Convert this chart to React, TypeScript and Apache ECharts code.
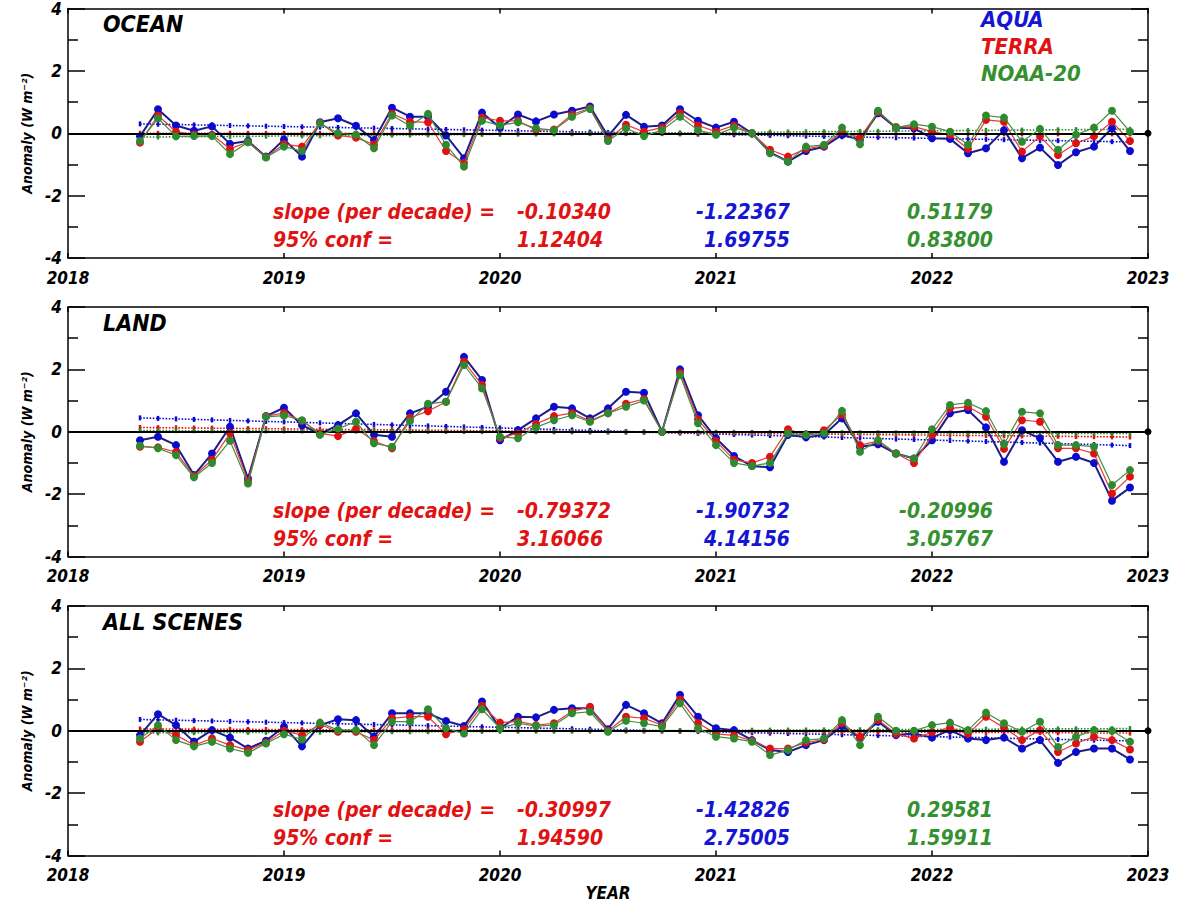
import React, { useEffect, useRef } from "react";
import * as echarts from "echarts";

// ---------- time axis ----------
const START_YEAR = 2018;
const START_MONTH = 5; // May 2018
const N_MONTHS = 56; // May 2018 .. Dec 2022
const MONTHS: number[] = Array.from({ length: N_MONTHS }, (_, k) => START_YEAR + (START_MONTH - 1 + k) / 12);
const X_MIN = 2018;
const X_MAX = 2023;
const Y_MIN = -4;
const Y_MAX = 4;

const PANEL_TITLES = ["OCEAN", "LAND", "ALL SCENES"];
const SERIES_NAMES = ["AQUA", "TERRA", "NOAA-20"];

// ---------- OCEAN ----------
const OCEAN_AQUA = [-0.1, 0.77, 0.25, 0.08, 0.22, -0.34, -0.25, -0.75, -0.2, -0.75, 0.35, 0.48, 0.24, -0.22, 0.82, 0.53, 0.53, -0.07, -0.8, 0.66, 0.18, 0.6, 0.38, 0.6, 0.72, 0.86, -0.1, 0.59, 0.21, 0.25, 0.77, 0.4, 0.18, 0.37, 0.0, -0.61, -0.91, -0.57, -0.43, -0.05, -0.21, 0.64, 0.18, 0.16, -0.16, -0.18, -0.64, -0.48, 0.1, -0.8, -0.46, -1.02, -0.61, -0.43, 0.16, -0.57];
const OCEAN_TERRA = [-0.3, 0.57, 0.05, -0.04, -0.05, -0.5, -0.28, -0.76, -0.35, -0.43, 0.33, -0.07, -0.14, -0.36, 0.63, 0.37, 0.35, -0.57, -0.95, 0.5, 0.4, 0.4, 0.1, 0.12, 0.6, 0.8, -0.2, 0.27, 0.05, 0.18, 0.65, 0.25, 0.05, 0.25, 0.0, -0.53, -0.75, -0.5, -0.4, 0.05, -0.14, 0.68, 0.2, 0.21, 0.05, -0.05, -0.5, 0.43, 0.37, -0.59, -0.1, -0.7, -0.32, -0.1, 0.37, -0.25];
const OCEAN_NOAA = [-0.25, 0.48, -0.1, -0.09, -0.09, -0.67, -0.29, -0.78, -0.43, -0.57, 0.32, 0.0, -0.05, -0.48, 0.57, 0.24, 0.62, -0.37, -1.07, 0.4, 0.25, 0.35, 0.16, 0.1, 0.53, 0.78, -0.25, 0.16, -0.09, 0.1, 0.53, 0.1, -0.05, 0.18, 0.0, -0.64, -0.91, -0.43, -0.37, 0.18, -0.35, 0.72, 0.18, 0.29, 0.21, 0.05, -0.37, 0.57, 0.5, -0.27, 0.14, -0.53, -0.05, 0.18, 0.72, 0.05];

// ---------- LAND ----------
const LAND_AQUA = [-0.27, -0.16, -0.43, -1.39, -0.7, 0.16, -1.5, 0.5, 0.77, 0.21, -0.07, 0.21, 0.59, -0.1, -0.16, 0.59, 0.8, 1.28, 2.4, 1.66, -0.27, 0.05, 0.43, 0.8, 0.75, 0.43, 0.75, 1.28, 1.25, 0.0, 2.0, 0.53, -0.21, -0.78, -1.1, -1.14, -0.1, -0.18, -0.1, 0.43, -0.48, -0.4, -0.7, -0.86, -0.27, 0.59, 0.7, 0.14, -0.96, 0.05, -0.21, -0.96, -0.8, -1.0, -2.21, -1.79];
const LAND_TERRA = [-0.48, -0.5, -0.65, -1.42, -0.9, -0.05, -1.58, 0.5, 0.6, 0.35, -0.05, -0.14, 0.1, -0.3, -0.53, 0.45, 0.66, 0.96, 2.25, 1.5, -0.2, -0.05, 0.25, 0.5, 0.6, 0.35, 0.6, 0.9, 1.05, 0.0, 1.9, 0.4, -0.3, -0.9, -1.0, -0.8, 0.08, -0.1, 0.05, 0.55, -0.43, -0.3, -0.7, -1.0, -0.1, 0.75, 0.8, 0.48, -0.55, 0.37, 0.32, -0.53, -0.53, -0.7, -1.98, -1.44];
const LAND_NOAA = [-0.45, -0.53, -0.75, -1.46, -1.0, -0.29, -1.66, 0.48, 0.52, 0.37, -0.1, 0.1, 0.32, -0.37, -0.48, 0.34, 0.9, 0.96, 2.14, 1.39, -0.16, -0.21, 0.14, 0.37, 0.53, 0.32, 0.59, 0.8, 1.0, 0.0, 1.82, 0.27, -0.43, -1.0, -1.1, -1.0, -0.05, -0.1, -0.05, 0.67, -0.64, -0.27, -0.7, -0.86, 0.08, 0.86, 0.93, 0.66, -0.4, 0.64, 0.59, -0.43, -0.43, -0.48, -1.71, -1.23];

// ---------- ALL SCENES ----------
const ALL_AQUA = [-0.14, 0.53, 0.18, -0.35, 0.02, -0.22, -0.57, -0.32, 0.13, -0.5, 0.18, 0.37, 0.34, -0.19, 0.56, 0.56, 0.56, 0.31, 0.15, 0.94, 0.08, 0.45, 0.43, 0.67, 0.72, 0.72, 0.05, 0.83, 0.56, 0.24, 1.15, 0.45, 0.08, 0.02, -0.3, -0.62, -0.68, -0.46, -0.3, 0.15, -0.22, 0.29, -0.14, -0.09, -0.22, 0.02, -0.25, -0.3, -0.22, -0.57, -0.3, -1.03, -0.68, -0.57, -0.57, -0.92];
const ALL_TERRA = [-0.35, 0.08, -0.14, -0.46, -0.25, -0.46, -0.62, -0.38, 0.0, -0.14, 0.2, -0.03, -0.03, -0.3, 0.4, 0.45, 0.45, -0.11, 0.05, 0.8, 0.26, 0.3, 0.18, 0.24, 0.62, 0.77, 0.0, 0.45, 0.4, 0.18, 1.0, 0.25, -0.1, -0.15, -0.32, -0.57, -0.57, -0.38, -0.28, 0.25, -0.19, 0.35, -0.1, -0.25, -0.05, 0.1, -0.1, 0.45, 0.1, -0.3, 0.02, -0.68, -0.41, -0.19, -0.3, -0.6];
const ALL_NOAA = [-0.25, 0.18, -0.3, -0.5, -0.35, -0.57, -0.71, -0.41, -0.11, -0.28, 0.26, 0.02, 0.02, -0.46, 0.29, 0.29, 0.69, 0.08, -0.09, 0.69, 0.08, 0.24, 0.15, 0.18, 0.56, 0.61, -0.03, 0.32, 0.24, 0.13, 0.88, 0.08, -0.19, -0.25, -0.35, -0.78, -0.62, -0.3, -0.25, 0.34, -0.46, 0.45, 0.0, 0.0, 0.18, 0.26, 0.02, 0.58, 0.24, -0.03, 0.29, -0.52, -0.19, 0.02, 0.0, -0.35];

const PANEL_DATA = [
  [OCEAN_AQUA, OCEAN_TERRA, OCEAN_NOAA],
  [LAND_AQUA, LAND_TERRA, LAND_NOAA],
  [ALL_AQUA, ALL_TERRA, ALL_NOAA],
];

// slope / conf texts: [TERRA, AQUA, NOAA-20]
const OCEAN_SLOPE = ["-0.10340", "-1.22367", "0.51179"];
const OCEAN_CONF = ["1.12404", "1.69755", "0.83800"];
const LAND_SLOPE = ["-0.79372", "-1.90732", "-0.20996"];
const LAND_CONF = ["3.16066", "4.14156", "3.05767"];
const ALL_SLOPE = ["-0.30997", "-1.42826", "0.29581"];
const ALL_CONF = ["1.94590", "2.75005", "1.59911"];
const PANEL_SLOPES = [OCEAN_SLOPE, LAND_SLOPE, ALL_SLOPE];
const PANEL_CONFS = [OCEAN_CONF, LAND_CONF, ALL_CONF];

// ---------- styles ----------
const FONT_FAMILY = '"Liberation Sans Narrow", "DejaVu Sans Condensed", "Arial Narrow", sans-serif';
const font = (size: number) => `italic bold ${size}px ${FONT_FAMILY}`;
const LINE_COLORS = ["#1c1c8a", "#e83a3a", "#3f8f3f"];
const MARK_COLORS = ["#0b0bd0", "#e01010", "#2f8a2f"];
const TEXT_COLORS = ["#1515d6", "#e01212", "#35902f"];
const LINE_WIDTHS = [2, 1.2, 1.2];

const GRID_LEFT = 68;
const GRID_WIDTH = 1080;
const GRID_TOPS = [8.5, 307, 606];
const GRID_HEIGHT = 249.5;

function trend(xs: number[], ys: number[]): number[][] {
  const n = xs.length;
  const mx = xs.reduce((a, b) => a + b, 0) / n;
  const my = ys.reduce((a, b) => a + b, 0) / n;
  let sxy = 0;
  let sxx = 0;
  for (let i = 0; i < n; i++) {
    sxy += (xs[i] - mx) * (ys[i] - my);
    sxx += (xs[i] - mx) * (xs[i] - mx);
  }
  const b = sxy / sxx;
  return xs.map((x) => [x, my + b * (x - mx)]);
}

function buildOption() {
  const grids: any[] = [];
  const xAxes: any[] = [];
  const yAxes: any[] = [];
  const series: any[] = [];
  const graphics: any[] = [];

  const axisLine = { show: true, onZero: false, lineStyle: { color: "#000", width: 1.5 } };

  PANEL_DATA.forEach((panel, p) => {
    grids.push({ left: GRID_LEFT, width: GRID_WIDTH, top: GRID_TOPS[p], height: GRID_HEIGHT, containLabel: false });
    // bottom x
    xAxes.push({
      type: "value", gridIndex: p, min: X_MIN, max: X_MAX, interval: 1, position: "bottom",
      axisLine, splitLine: { show: false },
      axisTick: { show: true, inside: true, length: 5, lineStyle: { color: "#000", width: 1.5 } },
      axisLabel: { show: true, margin: 11, color: "#000", fontFamily: FONT_FAMILY, fontSize: 17, fontWeight: "bold", fontStyle: "italic", showMinLabel: true, showMaxLabel: true, formatter: (v: number) => String(v) },
    });
    // top x
    xAxes.push({
      type: "value", gridIndex: p, min: X_MIN, max: X_MAX, interval: 1, position: "top",
      axisLine, splitLine: { show: false },
      axisTick: { show: true, inside: true, length: 5, lineStyle: { color: "#000", width: 1.5 } },
      axisLabel: { show: false },
    });
    // left y
    yAxes.push({
      type: "value", gridIndex: p, min: Y_MIN, max: Y_MAX, interval: 2, position: "left",
      axisLine, splitLine: { show: false },
      axisTick: { show: true, inside: true, length: 17, lineStyle: { color: "#000", width: 1.5 } },
      minorTick: { show: true, splitNumber: 2, length: 10, lineStyle: { color: "#000", width: 1.5 } },
      axisLabel: { show: true, margin: 6, color: "#000", fontFamily: FONT_FAMILY, fontSize: 17, fontWeight: "bold", fontStyle: "italic" },
    });
    // right y
    yAxes.push({
      type: "value", gridIndex: p, min: Y_MIN, max: Y_MAX, interval: 2, position: "right",
      axisLine, splitLine: { show: false },
      axisTick: { show: true, inside: true, length: 17, lineStyle: { color: "#000", width: 1.5 } },
      minorTick: { show: true, splitNumber: 2, length: 10, lineStyle: { color: "#000", width: 1.5 } },
      axisLabel: { show: false },
    });

    const xi = p * 2;
    const yi = p * 2;

    // trend lines (dotted)
    panel.forEach((vals, s) => {
      series.push({
        type: "line", name: SERIES_NAMES[s] + " trend", xAxisIndex: xi, yAxisIndex: yi,
        data: trend(MONTHS, vals), z: 2, silent: true,
        symbol: "rect", symbolSize: [2.5, 5], showSymbol: true,
        itemStyle: { color: MARK_COLORS[s] },
        lineStyle: { color: MARK_COLORS[s], width: 1.6, type: "dotted" },
      });
    });

    // data lines
    panel.forEach((vals, s) => {
      const ser: any = {
        type: "line", name: SERIES_NAMES[s], xAxisIndex: xi, yAxisIndex: yi,
        data: MONTHS.map((m, i) => [m, vals[i]]), z: 3 + s, silent: true,
        symbol: "circle", symbolSize: 8, showSymbol: true,
        itemStyle: { color: MARK_COLORS[s], borderWidth: 0 },
        lineStyle: { color: LINE_COLORS[s], width: LINE_WIDTHS[s] },
      };
      if (s === 0) {
        ser.markLine = {
          silent: true, symbol: ["none", "circle"], symbolSize: 7,
          label: { show: false },
          lineStyle: { color: "#000", width: 2, type: "solid" },
          data: [{ yAxis: 0 }],
        };
      }
      series.push(ser);
    });

    const top = GRID_TOPS[p];
    // panel title
    graphics.push({ type: "text", left: 103, top: top + 4, style: { text: PANEL_TITLES[p], font: font(23), fill: "#000" } });
    // y axis title
    graphics.push({
      type: "text", x: 27, y: top + GRID_HEIGHT / 2, rotation: Math.PI / 2,
      style: { text: "Anomaly (W m\u207B\u00B2)", font: font(14), fill: "#000", align: "center", verticalAlign: "middle", textAlign: "center", textVerticalAlign: "middle" },
    });
    // stats
    const y1 = top + 203.5;
    const y2 = top + 231.5;
    graphics.push({ type: "text", x: 273, y: y1, style: { text: "slope (per decade) =", font: font(21), fill: TEXT_COLORS[1], align: "left", verticalAlign: "middle", textAlign: "left", textVerticalAlign: "middle" } });
    graphics.push({ type: "text", x: 273, y: y2, style: { text: "95% conf =", font: font(21), fill: TEXT_COLORS[1], align: "left", verticalAlign: "middle", textAlign: "left", textVerticalAlign: "middle" } });
    const slopes = PANEL_SLOPES[p];
    const confs = PANEL_CONFS[p];
    const cols = [
      { x: 517, align: "left", color: TEXT_COLORS[1] },
      { x: 790, align: "right", color: TEXT_COLORS[0] },
      { x: 993, align: "right", color: TEXT_COLORS[2] },
    ];
    cols.forEach((c, k) => {
      graphics.push({ type: "text", x: c.x, y: y1, style: { text: slopes[k], font: font(21), fill: c.color, align: c.align, verticalAlign: "middle", textAlign: c.align, textVerticalAlign: "middle" } });
      graphics.push({ type: "text", x: c.x, y: y2, style: { text: confs[k], font: font(21), fill: c.color, align: c.align, verticalAlign: "middle", textAlign: c.align, textVerticalAlign: "middle" } });
    });
  });

  // legend texts
  SERIES_NAMES.forEach((n, s) => {
    graphics.push({ type: "text", x: 981, y: 19 + s * 27, style: { text: n, font: font(22), fill: TEXT_COLORS[s], align: "left", verticalAlign: "middle", textAlign: "left", textVerticalAlign: "middle" } });
  });
  // x axis title
  graphics.push({ type: "text", x: 608, y: 893, style: { text: "YEAR", font: font(17), fill: "#000", align: "center", verticalAlign: "middle", textAlign: "center", textVerticalAlign: "middle" } });

  return {
    animation: false,
    backgroundColor: "#ffffff",
    grid: grids,
    xAxis: xAxes,
    yAxis: yAxes,
    series,
    graphic: graphics,
  };
}

export default function App() {
  const ref = useRef<HTMLDivElement>(null);
  useEffect(() => {
    if (!ref.current) return;
    const chart = echarts.init(ref.current, undefined, { renderer: "svg" });
    chart.setOption(buildOption() as any);
    return () => chart.dispose();
  }, []);
  return <div ref={ref} style={{ position: "fixed", left: 0, top: 0, width: 1191, height: 904, background: "#fff" }} />;
}
